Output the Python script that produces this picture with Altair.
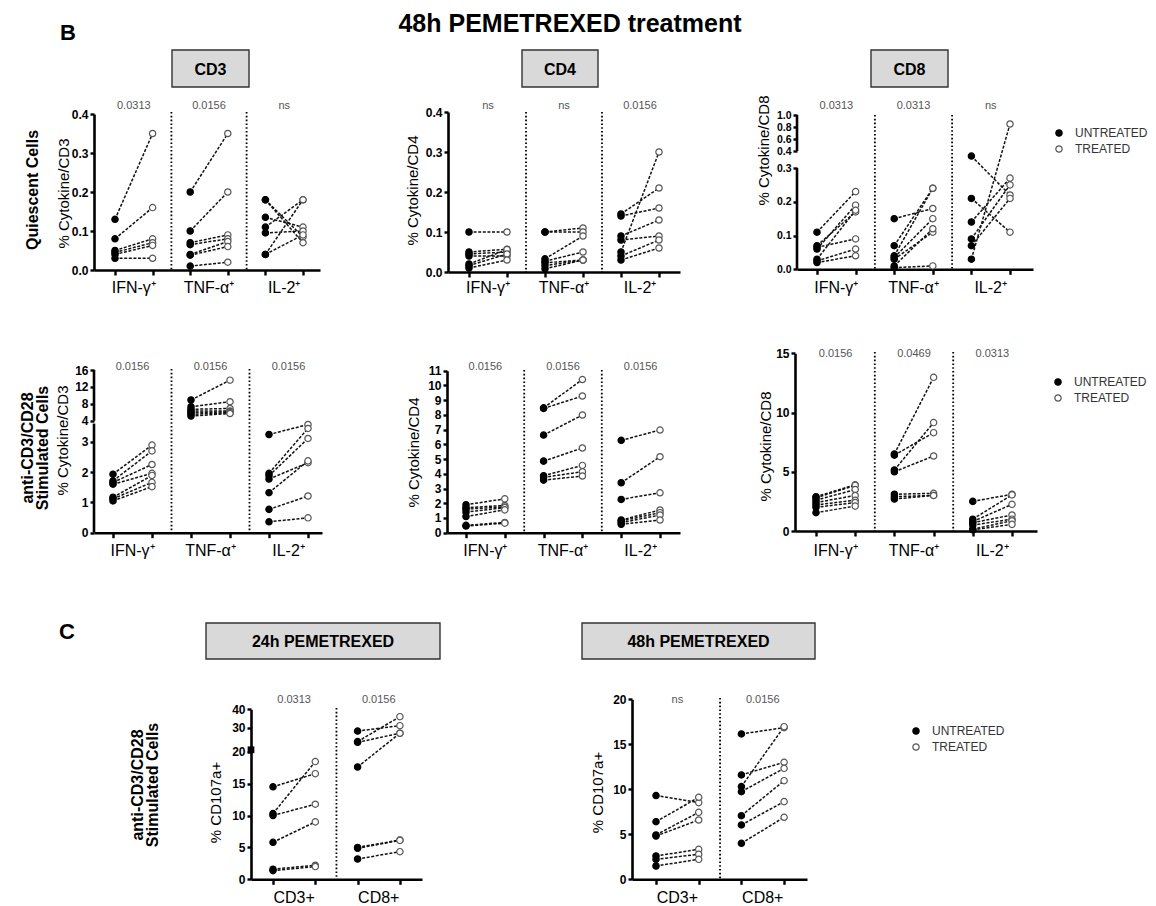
import altair as alt
import pandas as pd

FONT = "Liberation Sans"
W, H = 1140, 897
M = 8  # page margin: chart coordinate = picture coordinate - M

# ---------------- data ----------------
CYTO = ["IFN-γ⁺", "TNF-α⁺", "IL-2⁺"]
DEGR = ["CD3+", "CD8+"]
GROUPS = ["UNTREATED", "TREATED"]

# Row 1 - quiescent cells
Q_CD3_IFN_U = [0.13, 0.08, 0.05, 0.045, 0.04, 0.03]
Q_CD3_IFN_T = [0.35, 0.16, 0.08, 0.07, 0.063, 0.03]
Q_CD3_TNF_U = [0.20, 0.10, 0.07, 0.065, 0.04, 0.038, 0.01]
Q_CD3_TNF_T = [0.35, 0.20, 0.09, 0.08, 0.073, 0.06, 0.02]
Q_CD3_IL2_U = [0.18, 0.18, 0.135, 0.11, 0.095, 0.04, 0.04]
Q_CD3_IL2_T = [0.085, 0.07, 0.11, 0.18, 0.10, 0.18, 0.09]
Q_CD3_P = ["0.0313", "0.0156", "ns"]

Q_CD4_IFN_U = [0.10, 0.05, 0.045, 0.04, 0.02, 0.016, 0.01]
Q_CD4_IFN_T = [0.10, 0.057, 0.05, 0.04, 0.056, 0.045, 0.03]
Q_CD4_TNF_U = [0.10, 0.10, 0.033, 0.027, 0.023, 0.016, 0.008]
Q_CD4_TNF_T = [0.11, 0.10, 0.09, 0.05, 0.03, 0.03, 0.03]
Q_CD4_IL2_U = [0.145, 0.14, 0.09, 0.08, 0.05, 0.04, 0.03]
Q_CD4_IL2_T = [0.21, 0.16, 0.13, 0.09, 0.30, 0.08, 0.06]
Q_CD4_P = ["ns", "ns", "0.0156"]

Q_CD8_IFN_U = [0.11, 0.07, 0.065, 0.06, 0.03, 0.025, 0.02]
Q_CD8_IFN_T = [0.23, 0.17, 0.09, 0.19, 0.175, 0.06, 0.04]
Q_CD8_TNF_U = [0.15, 0.07, 0.04, 0.035, 0.03, 0.01, 0.005]
Q_CD8_TNF_T = [0.18, 0.24, 0.24, 0.15, 0.11, 0.12, 0.01]
Q_CD8_IL2_U = [0.37, 0.21, 0.14, 0.09, 0.07, 0.03]
Q_CD8_IL2_T = [0.22, 0.11, 0.27, 0.25, 0.21, 0.85]
Q_CD8_P = ["0.0313", "0.0313", "ns"]

# Row 2 - anti-CD3/CD28 stimulated cells
S_CD3_IFN_U = [1.93, 1.71, 1.66, 1.60, 1.17, 1.12, 1.05]
S_CD3_IFN_T = [2.89, 2.70, 2.25, 1.96, 1.89, 1.66, 1.52]
S_CD3_TNF_U = [8.9, 7.3, 6.7, 6.3, 5.9, 5.5, 5.1]
S_CD3_TNF_T = [13.6, 8.5, 6.9, 6.3, 6.1, 5.9, 5.7]
S_CD3_IL2_U = [3.24, 1.96, 1.88, 1.77, 1.32, 0.77, 0.36]
S_CD3_IL2_T = [3.57, 3.44, 3.11, 2.31, 2.37, 1.21, 0.49]
S_CD3_P = ["0.0156", "0.0156", "0.0156"]

S_CD4_IFN_U = [1.9, 1.7, 1.6, 1.4, 1.1, 0.5, 0.45]
S_CD4_IFN_T = [2.3, 1.85, 1.75, 1.7, 1.55, 0.7, 0.65]
S_CD4_TNF_U = [8.48, 8.44, 6.63, 4.86, 3.87, 3.76, 3.57]
S_CD4_TNF_T = [10.4, 9.28, 7.99, 5.75, 4.57, 4.14, 3.85]
S_CD4_IL2_U = [6.27, 3.39, 2.26, 0.86, 0.79, 0.68, 0.57]
S_CD4_IL2_T = [6.97, 5.16, 2.71, 1.54, 1.36, 1.2, 0.86]
S_CD4_P = ["0.0156", "0.0156", "0.0156"]

S_CD8_IFN_U = [2.9, 2.8, 2.6, 2.4, 2.2, 2.0, 1.55]
S_CD8_IFN_T = [3.9, 3.85, 3.5, 3.0, 2.6, 2.4, 2.1]
S_CD8_TNF_U = [6.5, 6.4, 5.15, 5.0, 3.1, 2.9, 2.7]
S_CD8_TNF_T = [12.97, 8.3, 9.15, 6.33, 3.18, 3.0, 3.0]
S_CD8_IL2_U = [2.5, 1.0, 0.8, 0.7, 0.5, 0.15, 0.1]
S_CD8_IL2_T = [3.1, 3.05, 2.25, 1.35, 1.0, 0.87, 0.56]
S_CD8_P = ["0.0156", "0.0469", "0.0313"]

# Row 3 - CD107a+ degranulation
D24_CD3_U = [14.5, 10.3, 10.0, 5.8, 1.58, 1.36]
D24_CD3_T = [16.56, 18.45, 11.77, 9.0, 2.2, 1.99]
D24_CD8_U = [28.6, 24.2, 23.9, 17.6, 5.0, 4.86, 3.18]
D24_CD8_T = [31.1, 36.0, 27.7, 27.7, 6.16, 6.1, 4.33]
D24_P = ["0.0313", "0.0156"]

D48_CD3_U = [9.3, 6.4, 4.93, 4.81, 2.59, 2.22, 1.48]
D48_CD3_T = [8.52, 9.11, 7.44, 6.59, 3.33, 2.78, 2.22]
D48_CD8_U = [16.15, 11.6, 10.3, 9.74, 7.07, 6.04, 4.0]
D48_CD8_T = [16.85, 13.0, 16.96, 12.33, 10.96, 8.63, 6.89]
D48_P = ["ns", "0.0156"]


def make_legend(lx, ly):
    return alt.Legend(
        orient="none", legendX=lx - M, legendY=ly - M, title=None,
        labelFontSize=12, labelColor="#333", labelFont=FONT, labelOffset=10,
        symbolType="circle", symbolSize=40, symbolStrokeWidth=1.2, rowPadding=4)


def panel(cats, U, T, pvals, ax, p0, st, ae, ydom, yimg, yvals, yfmt, ytitle, tx, ty,
          div_top, pval_y, lab_y, legend=None, breaks=None, square=None, ylabsize=12):
    n = 2 * len(cats)
    lo = (ax - p0) / st
    hi = (ae - p0) / st
    rows = []
    for gi, (ul, tl) in enumerate(zip(U, T)):
        for j, (u, t) in enumerate(zip(ul, tl)):
            rows.append(dict(pos=2 * gi, val=u, grp="UNTREATED", pair=f"{gi}-{j}"))
            rows.append(dict(pos=2 * gi + 1, val=t, grp="TREATED", pair=f"{gi}-{j}"))
    df = pd.DataFrame(rows)

    xs = alt.Scale(domain=[lo, hi], range=[ax - M, ae - M], nice=False, zero=False)
    ys = alt.Scale(domain=ydom, range=[v - M for v in yimg], nice=False, zero=False)
    X = alt.X("pos:Q", scale=xs, axis=alt.Axis(
        orient="bottom", offset=(yimg[0] - M) - H, values=list(range(n)), labels=False,
        title=None, grid=False, domainColor="black", domainWidth=2.6, tickColor="black",
        tickWidth=2.4, tickSize=5))
    Y = alt.Y("val:Q", scale=ys, axis=alt.Axis(
        orient="left", offset=-(ax - M), values=yvals, format=yfmt, grid=False,
        domain=breaks is None, domainColor="black", domainWidth=2.6, tickColor="black",
        tickWidth=2.4, tickSize=4, labelPadding=2, labelFontSize=ylabsize, labelFontWeight="bold",
        labelColor="black", labelFont=FONT, labelOverlap=False, labelBound=False,
        title=ytitle, titleX=tx - ax, titleY=ty - M,
        titleAngle=270, titleAlign="center", titleBaseline="middle", titleFontSize=15,
        titleFontWeight="normal", titleColor="black", titleFont=FONT))

    divs = pd.DataFrame({"pos": [2 * i + 1.5 for i in range(len(cats) - 1)]})
    layers = [
        alt.Chart(divs).mark_rule(color="black", strokeWidth=1.8, strokeDash=[1.6, 2.2]).encode(
            x=X, y=alt.value(div_top - M), y2=alt.value(yimg[0] - M)),
        alt.Chart(df).mark_line(color="#111", strokeWidth=1.5, strokeDash=[3, 1.6]).encode(
            x=X, y=Y, detail="pair:N"),
        alt.Chart(df).mark_point(filled=True, size=40, strokeWidth=1.2, opacity=1).encode(
            x=X, y=Y,
            fill=alt.Fill("grp:N", scale=alt.Scale(domain=GROUPS, range=["black", "white"]),
                          legend=legend),
            stroke=alt.Stroke("grp:N", scale=alt.Scale(domain=GROUPS, range=["black", "#555"]),
                              legend=legend)),
    ]
    labdf = pd.DataFrame({"pos": [2 * i + 0.5 for i in range(len(cats))], "lab": cats, "p": pvals})
    layers.append(alt.Chart(labdf).mark_text(fontSize=16, font=FONT, color="black",
                                             baseline="middle").encode(
        x=X, y=alt.value(lab_y - M), text="lab:N"))
    layers.append(alt.Chart(labdf).mark_text(fontSize=11, font=FONT, color="#555",
                                             baseline="middle").encode(
        x=X, y=alt.value(pval_y - M), text="p:N"))
    if breaks:
        bdf = pd.DataFrame({"pos": [lo] * len(breaks), "val": [b[0] for b in breaks],
                            "val2": [b[1] for b in breaks]})
        layers.append(alt.Chart(bdf).mark_rule(color="black", strokeWidth=2.6).encode(
            x=X, y=Y, y2="val2:Q"))
    if square is not None:
        sdf = pd.DataFrame({"pos": [lo], "val": [square]})
        layers.append(alt.Chart(sdf).mark_square(size=45, color="black", opacity=1).encode(x=X, y=Y))
    return alt.layer(*layers)


def txt(s, x, y, size, weight="normal", angle=0, color="black"):
    return alt.Chart(pd.DataFrame({"t": [s]})).mark_text(
        fontSize=size, fontWeight=weight, angle=angle, font=FONT, color=color,
        align="center", baseline="middle", lineBreak="\n", lineHeight=15).encode(
        text="t:N", x=alt.value(x - M), y=alt.value(y - M))


def box(label, x0, x1, y0, y1):
    r = alt.Chart(pd.DataFrame({"a": [0]})).mark_rect(
        fill="#d9d9d9", stroke="#333", strokeWidth=1.4).encode(
        x=alt.value(x0 - M), x2=alt.value(x1 - M), y=alt.value(y0 - M), y2=alt.value(y1 - M))
    return alt.layer(r, txt(label, (x0 + x1) / 2, (y0 + y1) / 2 + 1, 16, "bold"))


panels = [
    panel(CYTO, [Q_CD3_IFN_U, Q_CD3_TNF_U, Q_CD3_IL2_U], [Q_CD3_IFN_T, Q_CD3_TNF_T, Q_CD3_IL2_T],
          Q_CD3_P, 94, 115, 37.6, 320, [0, 0.4], [270, 114], [0, 0.1, 0.2, 0.3, 0.4], ".1f",
          "% Cytokine/CD3", 63, 193, 112, 106, 288),
    panel(CYTO, [Q_CD4_IFN_U, Q_CD4_TNF_U, Q_CD4_IL2_U], [Q_CD4_IFN_T, Q_CD4_TNF_T, Q_CD4_IL2_T],
          Q_CD4_P, 448, 469, 38, 680, [0, 0.4], [272, 112], [0, 0.1, 0.2, 0.3, 0.4], ".1f",
          "% Cytokine/CD4", 412, 190, 112, 106, 288),
    panel(CYTO, [Q_CD8_IFN_U, Q_CD8_TNF_U, Q_CD8_IL2_U], [Q_CD8_IFN_T, Q_CD8_TNF_T, Q_CD8_IL2_T],
          Q_CD8_P, 797, 817, 38.6, 1033, [0, 0.3, 0.4, 1.0], [269.3, 168, 151, 115],
          [0, 0.1, 0.2, 0.3, 0.4, 0.6, 0.8, 1.0], ".1f", "% Cytokine/CD8", 763, 150, 115, 106, 288,
          legend=make_legend(1053, 127), breaks=[(0, 0.3), (0.4, 1.0)], ylabsize=10.5),
    panel(CYTO, [S_CD3_IFN_U, S_CD3_TNF_U, S_CD3_IL2_U], [S_CD3_IFN_T, S_CD3_TNF_T, S_CD3_IL2_T],
          S_CD3_P, 94, 113, 39, 322, [0, 3.6, 4, 16], [532.7, 423.6, 420.7, 370],
          [0, 1, 2, 3, 4, 8, 12, 16], "d", "% Cytokine/CD3", 62, 440, 369, 367, 551,
          breaks=[(0, 3.6), (4, 16)]),
    panel(CYTO, [S_CD4_IFN_U, S_CD4_TNF_U, S_CD4_IL2_U], [S_CD4_IFN_T, S_CD4_TNF_T, S_CD4_IL2_T],
          S_CD4_P, 447, 466, 38.8, 680, [0, 11], [532.7, 370.7], list(range(12)), "d",
          "% Cytokine/CD4", 413, 452, 370, 367, 551),
    panel(CYTO, [S_CD8_IFN_U, S_CD8_TNF_U, S_CD8_IL2_U], [S_CD8_IFN_T, S_CD8_TNF_T, S_CD8_IL2_T],
          S_CD8_P, 795, 816, 39.2, 1037, [0, 15], [531, 353.3], [0, 5, 10, 15], "d",
          "% Cytokine/CD8", 765, 446, 352, 354, 551, legend=make_legend(1052, 376)),
    panel(DEGR, [D24_CD3_U, D24_CD8_U], [D24_CD3_T, D24_CD8_T], D24_P,
          251, 273, 42.3, 422, [0, 20, 30, 40], [879.3, 751.7, 727.7, 709.3],
          [0, 5, 10, 15, 20, 30, 40], "d", "% CD107a+", 215, 802, 708, 700, 898, square=20.8),
    panel(DEGR, [D48_CD3_U, D48_CD8_U], [D48_CD3_T, D48_CD8_T], D48_P,
          632, 656, 42.7, 807, [0, 20], [879.3, 699.3], [0, 5, 10, 15, 20], "d",
          "% CD107a+", 597, 792, 698, 700, 898, legend=make_legend(910, 725)),
]

decor = [
    txt("48h PEMETREXED treatment", 570, 24, 25, "bold"),
    txt("B", 68, 33, 22, "bold"),
    txt("C", 67, 632, 22, "bold"),
    box("CD3", 172, 249, 50, 87),
    box("CD4", 522, 598, 50, 87),
    box("CD8", 871, 948, 50, 87),
    box("24h PEMETREXED", 206, 440, 623, 659),
    box("48h PEMETREXED", 582, 815, 623, 659),
    txt("Quiescent Cells", 33, 190, 16, "bold", 270),
    txt("anti-CD3/CD28\nStimulated Cells", 28, 448, 16, "bold", 270),
    txt("anti-CD3/CD28\nStimulated Cells", 138, 785, 16, "bold", 270),
]

chart = alt.layer(*decor, *panels).resolve_scale(
    x="independent", y="independent", fill="independent", stroke="independent"
).resolve_axis(x="independent", y="independent").resolve_legend(
    fill="independent", stroke="independent"
).properties(
    width=W, height=H, padding=0, autosize=alt.AutoSizeParams(type="none"),
    background="white",
).configure_view(stroke=None)

chart.save("out.html", embed_options={"renderer": "svg", "actions": False})
